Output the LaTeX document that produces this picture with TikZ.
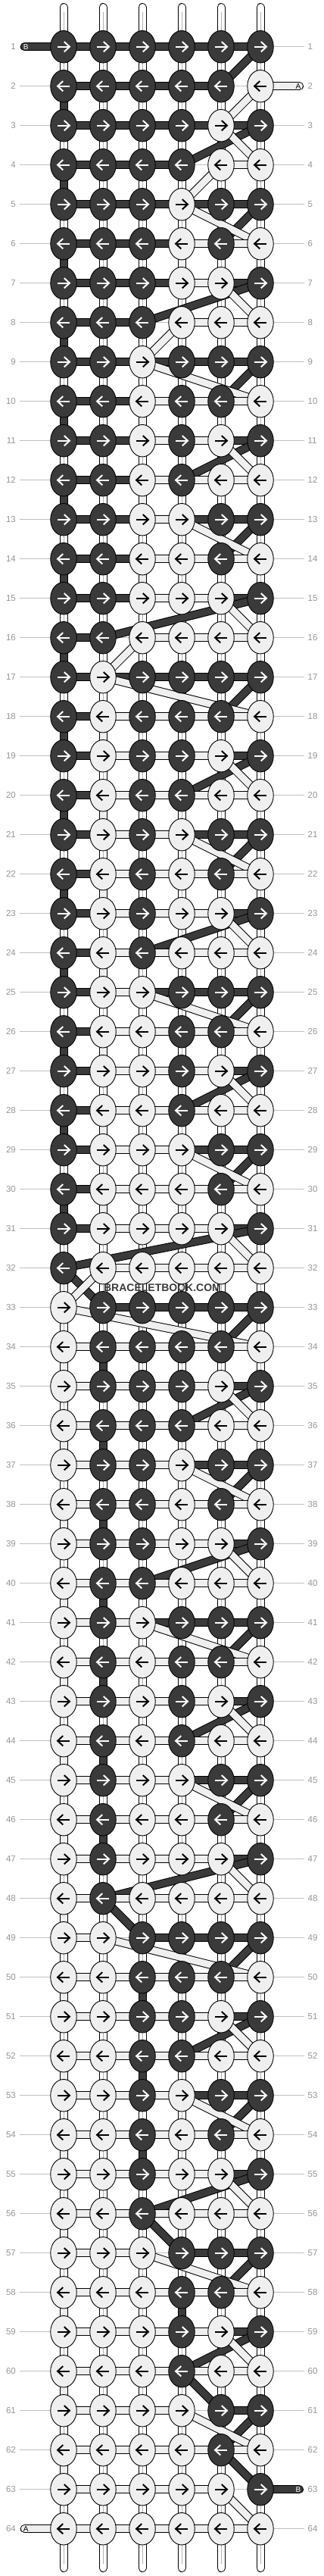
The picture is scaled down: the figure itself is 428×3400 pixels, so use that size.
\documentclass[tikz,border=0pt]{standalone}
\usepackage{fontspec}
\setmainfont{Liberation Sans}
\usetikzlibrary{shapes.geometric}
\definecolor{knotdark}{RGB}{58,58,58}
\definecolor{knotlight}{RGB}{239,239,239}
\definecolor{rowline}{RGB}{192,192,192}
\definecolor{rowtext}{RGB}{150,150,150}
\definecolor{tubeline}{RGB}{180,180,180}
\definecolor{marktext}{RGB}{60,60,60}
\pgfdeclarelayer{tubes}
\pgfdeclarelayer{strB}
\pgfdeclarelayer{strA}
\pgfsetlayers{tubes,strB,strA,main}

\tikzset{
  knot/.style={ellipse, draw=black, line width=0.9pt, minimum width=34.5pt, minimum height=42.5pt, inner sep=0pt},
  knot0/.style={knot, fill=knotdark},
  knot1/.style={knot, fill=knotlight},
  arrowline/.style={line width=2pt, line cap=butt, line join=miter},
  arrow1/.style={path picture={
    \draw[arrowline, draw=#1] ([xshift=-7.7pt]path picture bounding box.center) -- ([xshift=7.2pt]path picture bounding box.center);
    \draw[arrowline, draw=#1] ([shift={(0.8pt,6.6pt)}]path picture bounding box.center) -- ([xshift=7.9pt]path picture bounding box.center) -- ([shift={(0.8pt,-6.6pt)}]path picture bounding box.center);}},
  arrow0/.style={path picture={
    \draw[arrowline, draw=#1] ([xshift=7.7pt]path picture bounding box.center) -- ([xshift=-7.2pt]path picture bounding box.center);
    \draw[arrowline, draw=#1] ([shift={(-0.8pt,6.6pt)}]path picture bounding box.center) -- ([xshift=-7.9pt]path picture bounding box.center) -- ([shift={(-0.8pt,-6.6pt)}]path picture bounding box.center);}},
  strand/.style={line width=1pt, draw=black, double distance=9pt, line cap=round},
  strandA/.style={strand, double=knotlight},
  strandB/.style={strand, double=knotdark},
  tube/.style={line width=1pt, draw=black, double=white, double distance=9pt, line cap=round},
  rownum/.style={font=\fontsize{11.5}{12}\selectfont, text=rowtext, inner sep=0pt},
  tag/.style={font=\fontsize{10}{10}\selectfont, inner sep=0pt},
}

\begin{document}
\begin{tikzpicture}[x=1pt, y=-1pt]
		%%%%% START %%%%%
		\useasboundingbox (0,0) rectangle (428,3400);
		
		\begin{pgfonlayer}{tubes}
		\fill[white] (0,0) rectangle (428,3400);
		% row lines and numbers
		\foreach \r in {1,...,64}{
			\pgfmathsetmacro\ky{61.7+52*(\r-1)}
			\draw[rowline, line width=1pt] (26,\ky) -- (402,\ky);
			\node[rownum, anchor=east] (l\r) at (21,\ky) {\r};
			\node[rownum, anchor=west] (r\r) at (406.5,\ky) {\r};
		}
		% base strings
		\foreach \c in {1,...,6}{
			\pgfmathsetmacro\kx{84+52*(\c-1)}
			\coordinate (top\c) at (\kx,9.5);
			\coordinate (bot\c) at (\kx,3389.5);
			\draw[tube] (top\c) -- (bot\c);
			\draw[tubeline, line width=0.8pt] ([yshift=-6pt]top\c) -- ([yshift=6pt]bot\c);
		}
		\end{pgfonlayer}
		
		% loose ends
		\coordinate (tailB) at (32.2,61.7);
		\coordinate (tailA) at (395.5,113.7);
		\coordinate (endB) at (395.5,3285.7);
		\coordinate (endA) at (32.2,3337.7);
		
		% knots, in tying order
		\gdef\lastA{tailA}
		\gdef\lastB{tailB}
		\foreach \r in {1,...,64}{
			\pgfmathtruncatemacro\odd{mod(\r,2)}
			\pgfmathsetmacro\ky{61.7+52*(\r-1)}
			\foreach \i in {1,...,6}{
				\pgfmathtruncatemacro\c{\odd==1 ? \i : 7-\i}
				\pgfmathtruncatemacro\lit{mod(floor((\r-1)/2^(6-\c)),2)}
				\pgfmathsetmacro\kx{84+52*(\c-1)}
				\ifnum\lit=1 \def\ink{black}\else\def\ink{white}\fi
				\node[knot\lit, arrow\odd=\ink] (k\r-\c) at (\kx,\ky) {};
				\ifnum\lit=1
					\begin{pgfonlayer}{strA}
					\draw[strandA] (\lastA.center) -- (k\r-\c.center);
					\end{pgfonlayer}
					\xdef\lastA{k\r-\c}
				\else
					\begin{pgfonlayer}{strB}
					\draw[strandB] (\lastB.center) -- (k\r-\c.center);
					\end{pgfonlayer}
					\xdef\lastB{k\r-\c}
				\fi
			}
		}
		\begin{pgfonlayer}{strA}
		\draw[strandA] (\lastA.center) -- (endA);
		\end{pgfonlayer}
		\begin{pgfonlayer}{strB}
		\draw[strandB] (\lastB.center) -- (endB);
		\end{pgfonlayer}
		
		\node[tag, text=white] (tagB) at (34.3,61.7) {B};
		\node[tag, text=black] (tagA) at (394,113.7) {A};
		\node[tag, text=white] (tagB2) at (394,3285.7) {B};
		\node[tag, text=black] (tagA2) at (34.3,3337.7) {A};
		
		\node[font=\bfseries\fontsize{14}{14}\selectfont, text=marktext, inner sep=0pt] (mark) at (214.5,1700) {BRACELETBOOK.COM};
		%%%%% END %%%%%
	\end{tikzpicture}
\end{document}
